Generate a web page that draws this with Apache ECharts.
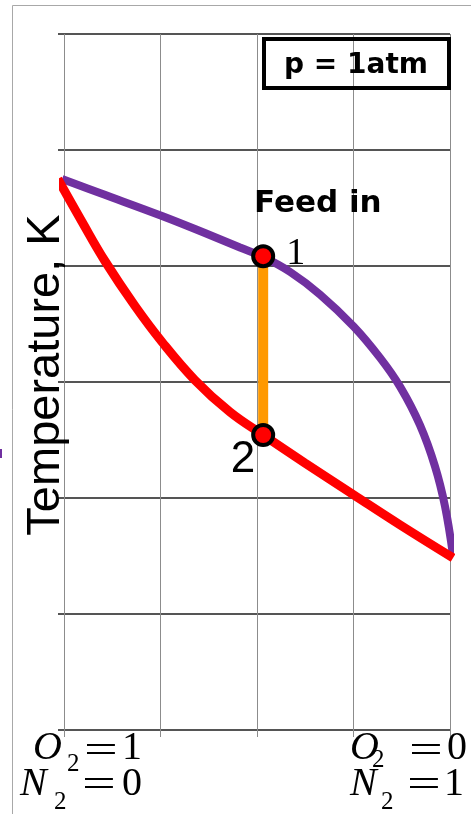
<!DOCTYPE html>
<html>
<head>
<meta charset="utf-8">
<script src="https://cdn.jsdelivr.net/npm/echarts@6/dist/echarts.min.js"></script>
<style>
html,body{margin:0;padding:0;background:#fff;}
#chart{width:471px;height:814px;}
</style>
</head>
<body>
<div id="chart"></div>
<script>
// Composition axis: 0 = pure O2 (left), 1 = pure N2 (right)
// Dew-point (vapour) curve, purple
var dewX = [-0.005, 0.093, 0.254, 0.365, 0.456, 0.516, 0.586, 0.663, 0.751, 0.819, 0.871, 0.922, 0.961, 0.987, 1.008];
var dewT = [4.75, 4.629, 4.431, 4.284, 4.159, 4.078, 3.948, 3.755, 3.477, 3.208, 2.958, 2.63, 2.274, 1.929, 1.502];
// Bubble-point (liquid) curve, red
var bubX = [-0.016, 0.047, 0.106, 0.184, 0.254, 0.339, 0.430, 0.516, 0.624, 0.751, 0.871, 1.008];
var bubT = [4.75, 4.379, 4.043, 3.655, 3.345, 3.017, 2.741, 2.543, 2.302, 2.026, 1.767, 1.483];
// Feed point 1 (on dew curve) and point 2 (on bubble curve)
var pointX = [0.516, 0.516];
var pointT = [4.085, 2.543];
var pointNames = ['1', '2'];
// Axis ticks (no tick labels shown)
var xTicks = [0, 0.25, 0.5, 0.75, 1];
var yTicks = [0, 1, 2, 3, 4, 5, 6];
var axisTitle = 'Temperature, K';
var pressureText = 'p = 1atm';
var feedText = 'Feed in';

function pairs(xs, ys) { return xs.map(function (x, i) { return [x, ys[i]]; }); }

var chart = echarts.init(document.getElementById('chart'), null, {renderer: 'canvas'});

function txt(text, x, y, font, size, opts) {
  opts = opts || {};
  return {
    type: 'text', x: x, y: y, z: 100,
    scaleX: opts.scaleX || 1,
    rotation: opts.rotation || 0,
    style: {
      text: text,
      fill: opts.color || '#000',
      font: (opts.style || '') + ' ' + (opts.weight || 'normal') + ' ' + size + 'px ' + font,
      textAlign: opts.align || 'left',
      textVerticalAlign: 'middle'
    }
  };
}

var serif = '"Liberation Serif", "Times New Roman", serif';
var sans = '"Liberation Sans", Arial, sans-serif';
var dv = '"DejaVu Sans", Verdana, sans-serif';

var graphics = [
  // outer frame
  {type: 'line', shape: {x1: 12.5, y1: 5.5, x2: 471, y2: 5.5}, style: {stroke: '#a8a8a8', lineWidth: 1}},
  {type: 'line', shape: {x1: 12.5, y1: 5.5, x2: 12.5, y2: 814}, style: {stroke: '#a8a8a8', lineWidth: 1}},
  {type: 'rect', shape: {x: 0, y: 449, width: 2, height: 9}, style: {fill: '#7030A0'}},
  // pressure box
  {type: 'rect', z: 100, shape: {x: 264, y: 39, width: 185, height: 49}, style: {fill: 'none', stroke: '#000', lineWidth: 4}},
  txt(pressureText, 356, 66, dv, 28, {weight: 'bold', align: 'center'}),
  txt(feedText, 254, 204, dv, 31, {weight: 'bold'}),
  txt(axisTitle, 46, 375, sans, 47, {align: 'center', rotation: Math.PI / 2}),
  // bottom-left labels
  txt('O', 33, 748, serif, 40, {style: 'italic'}),
  txt('2', 67, 764, serif, 25),
  txt('=', 84, 752, serif, 40, {scaleX: 1.5}),
  txt('1', 122, 748, serif, 40),
  txt('N', 20, 784, serif, 40, {style: 'italic'}),
  txt('2', 54, 802, serif, 25),
  txt('=', 82, 786, serif, 40, {scaleX: 1.5}),
  txt('0', 122, 784, serif, 40),
  // bottom-right labels
  txt('O', 350, 748, serif, 40, {style: 'italic'}),
  txt('2', 372, 760, serif, 25),
  txt('=', 409, 752, serif, 40, {scaleX: 1.5}),
  txt('0', 447, 748, serif, 40),
  txt('N', 350, 784, serif, 40, {style: 'italic'}),
  txt('2', 381, 802, serif, 25),
  txt('=', 407, 786, serif, 40, {scaleX: 1.5}),
  txt('1', 444, 784, serif, 40)
];

var option = {
  animation: false,
  backgroundColor: '#fff',
  grid: {left: 64, right: 21, top: 34, bottom: 84, containLabel: false},
  xAxis: {
    type: 'value', min: xTicks[0], max: xTicks[xTicks.length - 1], interval: xTicks[1] - xTicks[0],
    axisLine: {show: false},
    axisTick: {show: true, length: 7, lineStyle: {color: '#8c8c8c', width: 1}},
    axisLabel: {show: false},
    splitLine: {show: true, lineStyle: {color: '#8c8c8c', width: 1}}
  },
  yAxis: {
    type: 'value', min: yTicks[0], max: yTicks[yTicks.length - 1], interval: yTicks[1] - yTicks[0],
    axisLine: {show: false},
    axisTick: {show: true, length: 6, lineStyle: {color: '#555', width: 2}},
    axisLabel: {show: false},
    splitLine: {show: true, lineStyle: {color: '#555', width: 2}}
  },
  graphic: graphics,
  series: [
    {
      type: 'line', name: 'dew', data: pairs(dewX, dewT), smooth: 0.4, clip: false,
      symbol: 'none', lineStyle: {color: '#7030A0', width: 8}, z: 3
    },
    {
      type: 'line', name: 'bubble', data: pairs(bubX, bubT), smooth: 0.4, clip: false,
      symbol: 'none', lineStyle: {color: '#FF0000', width: 9}, z: 4
    },
    {
      type: 'line', name: 'tie', data: pairs(pointX, pointT), clip: false,
      symbol: 'none', lineStyle: {color: '#FF9900', width: 10}, z: 5
    },
    {
      type: 'scatter', name: 'points', clip: false, z: 6,
      symbolSize: 20,
      itemStyle: {color: '#FF0000', borderColor: '#000', borderWidth: 4, opacity: 1},
      data: pointX.map(function (x, i) {
        var lab = i === 0
          ? {show: true, formatter: pointNames[i], position: 'inside', offset: [23, -2], align: 'left', verticalAlign: 'middle',
             fontFamily: serif, fontSize: 38, color: '#000'}
          : {show: true, formatter: pointNames[i], position: 'inside', offset: [-8, 25], align: 'right', verticalAlign: 'middle',
             fontFamily: sans, fontSize: 44, color: '#000'};
        return {value: [x, pointT[i]], label: lab};
      })
    }
  ]
};
chart.setOption(option);
</script>
</body>
</html>
